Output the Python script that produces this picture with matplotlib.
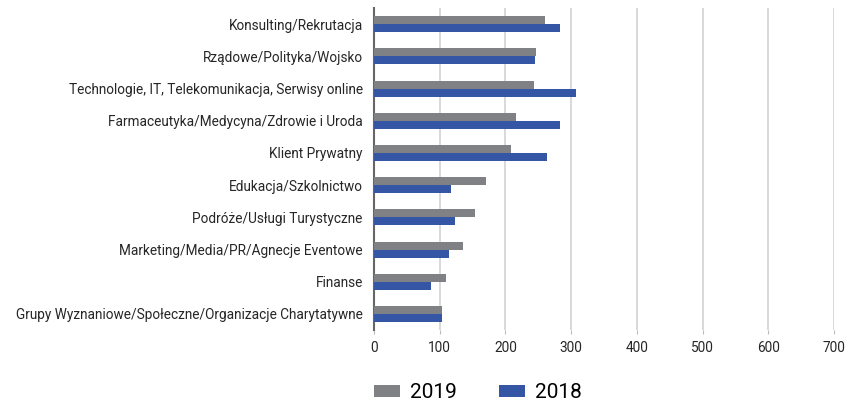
import matplotlib
matplotlib.use("Agg")
import matplotlib.pyplot as plt
import numpy as np

plt.rcParams['font.family'] = ['Roboto', 'DejaVu Sans']

categories = [
    "Konsulting/Rekrutacja",
    "Rządowe/Polityka/Wojsko",
    "Technologie, IT, Telekomunikacja, Serwisy online",
    "Farmaceutyka/Medycyna/Zdrowie i Uroda",
    "Klient Prywatny",
    "Edukacja/Szkolnictwo",
    "Podróże/Usługi Turystyczne",
    "Marketing/Media/PR/Agnecje Eventowe",
    "Finanse",
    "Grupy Wyznaniowe/Społeczne/Organizacje Charytatywne",
]
values_2019 = [260, 246, 243, 216, 208, 170, 154, 136, 110, 104]
values_2018 = [283, 245, 307, 283, 263, 117, 123, 114, 87, 104]
x_ticks = [0, 100, 200, 300, 400, 500, 600, 700]

gray = "#808184"
blue = "#3456a5"

fig = plt.figure(figsize=(8.46, 4.03), dpi=100)
ax = fig.add_axes([0.442, 0.181, 0.544, 0.799])

y = np.arange(len(categories))
h = 0.25
ax.barh(y - h / 2, values_2019, height=h, color=gray, label="2019", zorder=3)
ax.barh(y + h / 2, values_2018, height=h, color=blue, label="2018", zorder=3)

ax.set_yticks(y)
ax.set_yticklabels(categories, fontsize=9.8, color="#262626")
ax.set_ylim(len(categories) - 0.5, -0.5)
ax.set_xlim(0, 700)
ax.set_xticks(x_ticks)
ax.set_xticklabels([str(t) for t in x_ticks], fontsize=9.8, color="#262626")

ax.grid(axis="x", color="#d2d2d2", linewidth=1.2, zorder=0)
for s in ["top", "right", "bottom"]:
    ax.spines[s].set_visible(False)
ax.spines["left"].set_color("#666666")
ax.spines["left"].set_linewidth(1.5)
ax.tick_params(axis="y", length=0, pad=8)
ax.tick_params(axis="x", length=3, color="#bbbbbb", pad=5)

fig.legend(loc="center left", bbox_to_anchor=(374 / 846, 1 - 393 / 403), ncol=2,
           frameon=False, fontsize=15, handlelength=1.25, handleheight=0.55,
           handletextpad=0.5, columnspacing=2.0, borderpad=0, borderaxespad=0)

fig.savefig("out.png", dpi=100)
